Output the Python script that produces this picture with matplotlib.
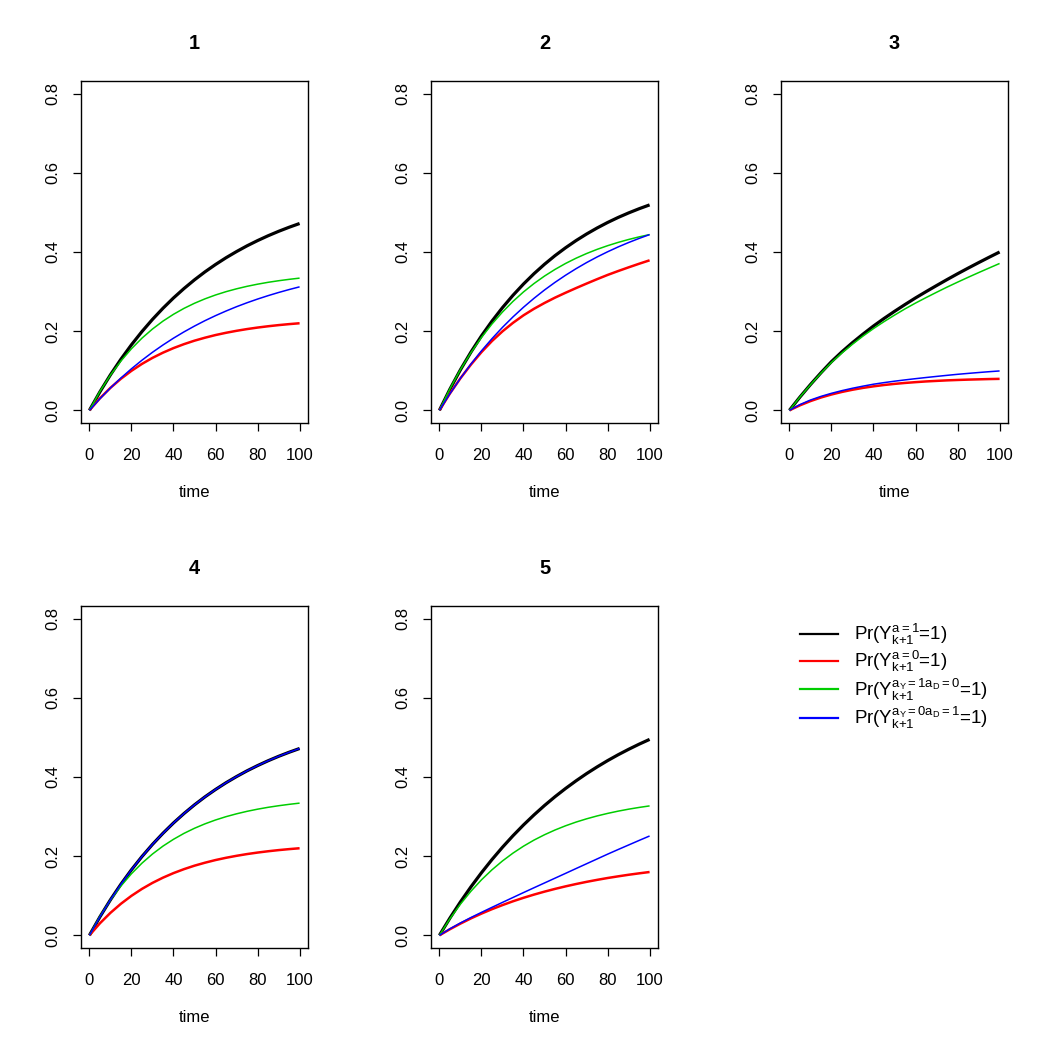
import matplotlib
matplotlib.use("Agg")
import matplotlib.pyplot as plt
from matplotlib.lines import Line2D
from matplotlib.ticker import FormatStrFormatter

plt.rcParams['font.family'] = ['Liberation Sans', 'DejaVu Sans']
plt.rcParams['mathtext.fontset'] = 'custom'
plt.rcParams['mathtext.rm'] = 'Liberation Sans'
plt.rcParams['mathtext.it'] = 'Liberation Sans'
plt.rcParams['mathtext.bf'] = 'Liberation Sans:bold'

time = [0, 5, 10, 15, 20, 25, 30, 35, 40, 45, 50, 55, 60, 65, 70, 75, 80, 85, 90, 95, 100]

titles = ["1", "2", "3", "4", "5"]

# panel 1
p1_black = [0, 0.0467, 0.0897, 0.1292, 0.1656, 0.1990, 0.2297, 0.2579, 0.2839, 0.3077, 0.3297,
            0.3499, 0.3684, 0.3855, 0.4011, 0.4156, 0.4288, 0.4410, 0.4522, 0.4625, 0.4720]
p1_red = [0, 0.0304, 0.0568, 0.0798, 0.0998, 0.1173, 0.1325, 0.1457, 0.1572, 0.1672, 0.1760,
          0.1835, 0.1902, 0.1959, 0.2009, 0.2053, 0.2091, 0.2124, 0.2153, 0.2178, 0.2200]
p1_green = [0, 0.0477, 0.0890, 0.1247, 0.1556, 0.1823, 0.2054, 0.2254, 0.2426, 0.2576, 0.2705,
            0.2817, 0.2914, 0.2998, 0.3070, 0.3133, 0.3187, 0.3234, 0.3274, 0.3309, 0.3340]
p1_blue = [0, 0.0293, 0.0565, 0.0817, 0.1050, 0.1266, 0.1466, 0.1651, 0.1823, 0.1982, 0.2129,
           0.2266, 0.2392, 0.2509, 0.2618, 0.2718, 0.2811, 0.2897, 0.2977, 0.3051, 0.3120]
# panel 2
p2_black = [0, 0.0535, 0.1024, 0.1471, 0.1880, 0.2253, 0.2594, 0.2906, 0.3191, 0.3452, 0.3690,
            0.3908, 0.4106, 0.4288, 0.4454, 0.4606, 0.4745, 0.4872, 0.4987, 0.5093, 0.5190]
p2_red = [0, 0.0425, 0.0810, 0.1155, 0.1470, 0.1750, 0.1995, 0.2210, 0.2400, 0.2565, 0.2712,
          0.2847, 0.2970, 0.3088, 0.3202, 0.3313, 0.3420, 0.3518, 0.3612, 0.3703, 0.3790]
p2_green = [0, 0.0544, 0.1028, 0.1458, 0.1841, 0.2181, 0.2483, 0.2752, 0.2991, 0.3203, 0.3392,
            0.3560, 0.3710, 0.3843, 0.3961, 0.4066, 0.4159, 0.4242, 0.4316, 0.4382, 0.4440]
p2_blue = [0, 0.0420, 0.0809, 0.1169, 0.1502, 0.1810, 0.2096, 0.2360, 0.2604, 0.2830, 0.3040,
           0.3233, 0.3412, 0.3578, 0.3732, 0.3874, 0.4005, 0.4127, 0.4239, 0.4343, 0.4440]
# panel 3
p3_black = [0, 0.0335, 0.0650, 0.0948, 0.1230, 0.1480, 0.1710, 0.1925, 0.2130, 0.2320, 0.2500,
            0.2673, 0.2840, 0.2998, 0.3152, 0.3303, 0.3450, 0.3592, 0.3731, 0.3867, 0.4000]
p3_red = [0, 0.0126, 0.0233, 0.0324, 0.0400, 0.0465, 0.0520, 0.0567, 0.0606, 0.0640, 0.0668,
          0.0692, 0.0712, 0.0730, 0.0744, 0.0757, 0.0767, 0.0776, 0.0783, 0.0790, 0.0795]
p3_green = [0, 0.0335, 0.0645, 0.0938, 0.1210, 0.1450, 0.1670, 0.1875, 0.2065, 0.2240, 0.2405,
            0.2563, 0.2710, 0.2848, 0.2982, 0.3113, 0.3238, 0.3360, 0.3479, 0.3595, 0.3710]
p3_blue = [0, 0.0145, 0.0260, 0.0352, 0.0430, 0.0498, 0.0558, 0.0611, 0.0660, 0.0700, 0.0736,
           0.0769, 0.0800, 0.0829, 0.0857, 0.0884, 0.0910, 0.0933, 0.0955, 0.0976, 0.0995]
# panel 4
p4_black = [0, 0.0467, 0.0897, 0.1292, 0.1656, 0.1990, 0.2297, 0.2579, 0.2839, 0.3077, 0.3297,
            0.3499, 0.3684, 0.3855, 0.4011, 0.4156, 0.4288, 0.4410, 0.4522, 0.4625, 0.4720]
p4_red = [0, 0.0304, 0.0568, 0.0798, 0.0998, 0.1173, 0.1325, 0.1457, 0.1572, 0.1672, 0.1760,
          0.1835, 0.1902, 0.1959, 0.2009, 0.2053, 0.2091, 0.2124, 0.2153, 0.2178, 0.2200]
p4_green = [0, 0.0477, 0.0890, 0.1247, 0.1556, 0.1823, 0.2054, 0.2254, 0.2426, 0.2576, 0.2705,
            0.2817, 0.2914, 0.2998, 0.3070, 0.3133, 0.3187, 0.3234, 0.3274, 0.3309, 0.3340]
p4_blue = [0, 0.0467, 0.0897, 0.1292, 0.1656, 0.1990, 0.2297, 0.2579, 0.2839, 0.3077, 0.3297,
           0.3499, 0.3684, 0.3855, 0.4011, 0.4156, 0.4288, 0.4410, 0.4522, 0.4625, 0.4720]
# panel 5
p5_black = [0, 0.0436, 0.0844, 0.1225, 0.1581, 0.1914, 0.2225, 0.2516, 0.2788, 0.3042, 0.3280,
            0.3502, 0.3709, 0.3903, 0.4085, 0.4254, 0.4413, 0.4561, 0.4699, 0.4829, 0.4950]
p5_red = [0, 0.0154, 0.0296, 0.0428, 0.0549, 0.0661, 0.0764, 0.0860, 0.0948, 0.1029, 0.1104,
          0.1173, 0.1237, 0.1296, 0.1351, 0.1401, 0.1448, 0.1490, 0.1530, 0.1566, 0.1600]
p5_green = [0, 0.0419, 0.0788, 0.1114, 0.1402, 0.1655, 0.1879, 0.2077, 0.2252, 0.2406, 0.2541,
            0.2661, 0.2767, 0.2861, 0.2943, 0.3016, 0.3080, 0.3137, 0.3187, 0.3231, 0.3270]
p5_blue = [0, 0.0165, 0.0313, 0.0450, 0.0580, 0.0707, 0.0832, 0.0956, 0.1080, 0.1202, 0.1323,
           0.1444, 0.1565, 0.1687, 0.1808, 0.1929, 0.2050, 0.2167, 0.2282, 0.2397, 0.2510]

panels = [
    (p1_black, p1_red, p1_green, p1_blue),
    (p2_black, p2_red, p2_green, p2_blue),
    (p3_black, p3_red, p3_green, p3_blue),
    (p4_black, p4_red, p4_green, p4_blue),
    (p5_black, p5_red, p5_green, p5_blue),
]

legend_labels = [
    r'Pr($\mathregular{Y_{k{+}1}^{a{=}1}}$=1)',
    r'Pr($\mathregular{Y_{k{+}1}^{a{=}0}}$=1)',
    r'Pr($\mathregular{Y_{k{+}1}^{a_{Y}{=}1a_{D}{=}0}}$=1)',
    r'Pr($\mathregular{Y_{k{+}1}^{a_{Y}{=}0a_{D}{=}1}}$=1)',
]

colors = ['#000000', '#FF0000', '#00CD00', '#0000FF']
widths = [2.3, 1.8, 1.1, 1.1]

fig = plt.figure(figsize=(10.5, 10.5), dpi=100)
W = 1050.0
lefts = [81, 431, 781]
tops = [81, 606]
aw, ah = 227, 342

k = 0
for r in range(2):
    for c in range(3):
        if k >= 5:
            break
        l = lefts[c] / W
        b = (W - tops[r] - ah) / W
        ax = fig.add_axes([l, b, aw / W, ah / W])
        series = panels[k]
        for s, col, lw in zip(series, colors, widths):
            ax.plot(time, s, color=col, lw=lw, solid_capstyle='butt')
        ax.set_xlim(-4, 104)
        ax.set_ylim(-0.032, 0.832)
        ax.set_xticks([0, 20, 40, 60, 80, 100])
        ax.set_yticks([0, 0.2, 0.4, 0.6, 0.8])
        ax.yaxis.set_major_formatter(FormatStrFormatter('%.1f'))
        ax.tick_params(direction='out', length=6, width=0.9, labelsize=12)
        ax.tick_params(axis='x', pad=12)
        ax.tick_params(axis='y', pad=9)
        for lab in ax.get_yticklabels():
            lab.set_rotation(90)
            lab.set_va('center')
        for sp in ax.spines.values():
            sp.set_linewidth(1.0)
        ax.set_title(titles[k], fontsize=14.4, fontweight='bold', pad=23)
        ax.set_xlabel('time', fontsize=12, labelpad=16)
        k += 1

handles = [Line2D([0], [0], color=col, lw=1.6) for col in colors]
fig.legend(handles, legend_labels, loc='upper left',
           bbox_to_anchor=(800 / W, 1 - 622 / W), frameon=False,
           fontsize=13.5, handlelength=2.0, handletextpad=0.9,
           labelspacing=0.1, borderaxespad=0, borderpad=0)

fig.savefig('out.png', dpi=100)
